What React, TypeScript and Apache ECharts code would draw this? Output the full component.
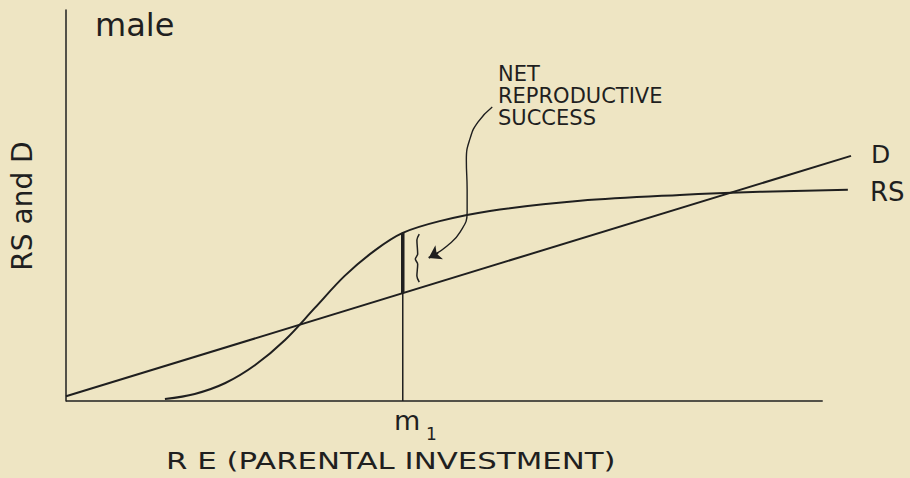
import React, { useEffect, useRef } from "react";
import * as echarts from "echarts";

// ---- data (x = parental investment, y = RS and D) ----
const baseline: number[][] = [[0, 0], [96.4, 0]];
const dLine: number[][] = [[0, 1.2], [100, 62.7]];
const rsCurve: number[][] = [
  [12.6, 0.5], [16.4, 1.8], [20.3, 4.6], [24.1, 9.2], [27.9, 15.6],
  [31.7, 23.8], [35.5, 32.0], [39.4, 38.6], [42.9, 43.0], [47.6, 46.0],
  [54.0, 48.6], [65.5, 51.2], [78.2, 52.7], [88.4, 53.5], [99.6, 54.0],
];
const m1X = 42.9;
const rsAtM1 = 43.0;
const dAtM1 = 27.6;
const brace: number[][] = [
  [45.0, 42.7], [44.7, 41.2], [44.8, 37.6], [44.5, 36.3], [44.8, 35.0],
  [44.7, 32.0], [45.0, 30.4],
];
const arrowPath: number[][] = [
  [54.3, 75.2], [52.5, 71.4], [51.5, 67.3], [51.0, 61.6], [51.1, 54.0],
  [51.1, 48.3], [50.2, 43.2], [48.5, 39.6], [46.9, 37.4],
];
const arrowHead: number[][] = [[47.4, 37.9], [46.2, 36.6]];

const INK = "#1f1f1f";
const PAPER = "#eee5c3";
const FONT = "DejaVu Sans";

export default function App() {
  const ref = useRef<HTMLDivElement>(null);
  useEffect(() => {
    if (!ref.current) return;
    const chart = echarts.init(ref.current, undefined, { renderer: "svg" });
    const lineBase = {
      type: "line",
      symbol: "none",
      silent: true,
      clip: false,
      animation: false,
    };
    chart.setOption({
      animation: false,
      backgroundColor: PAPER,
      grid: { left: 66, right: 59, top: 10, bottom: 77 },
      xAxis: {
        type: "value", min: 0, max: 100,
        axisLine: { show: false }, axisTick: { show: false },
        axisLabel: { show: false }, splitLine: { show: false },
      },
      yAxis: {
        type: "value", min: 0, max: 100,
        axisLine: { show: true, lineStyle: { color: INK, width: 1.5 } },
        axisTick: { show: false }, axisLabel: { show: false },
        splitLine: { show: false },
      },
      series: [
        { ...lineBase, data: baseline, lineStyle: { color: INK, width: 1.5 } },
        { ...lineBase, data: dLine, lineStyle: { color: INK, width: 2 } },
        {
          ...lineBase, data: rsCurve, smooth: 0.35,
          lineStyle: { color: INK, width: 2 },
        },
        { ...lineBase, data: [[m1X, 0], [m1X, rsAtM1]], lineStyle: { color: INK, width: 1.5 } },
        { ...lineBase, data: [[m1X, dAtM1], [m1X, rsAtM1]], lineStyle: { color: INK, width: 3.5 } },
        { ...lineBase, data: brace, smooth: 0.3, lineStyle: { color: INK, width: 1.5 } },
        { ...lineBase, data: arrowPath, smooth: 0.5, lineStyle: { color: INK, width: 1.4 } },
        {
          type: "lines",
          coordinateSystem: "cartesian2d",
          silent: true,
          animation: false,
          symbol: ["none", "arrow"],
          symbolSize: [6, 12],
          lineStyle: { color: INK, width: 2, opacity: 1 },
          data: [{ coords: arrowHead }],
        },
      ],
      graphic: [
        {
          type: "text", x: 95, y: 25,
          style: { text: "male", font: `32px "${FONT}"`, fill: INK, textAlign: "left", textVerticalAlign: "middle" },
        },
        {
          type: "text", x: 22, y: 206, rotation: Math.PI / 2,
          style: { text: "RS and D", font: `28px "${FONT}"`, fill: INK, textAlign: "center", textVerticalAlign: "middle" },
        },
        {
          type: "text", x: 871, y: 154,
          style: { text: "D", font: `25px "${FONT}"`, fill: INK, textAlign: "left", textVerticalAlign: "middle" },
        },
        {
          type: "text", x: 870, y: 192,
          style: { text: "RS", font: `26px "${FONT}"`, fill: INK, textAlign: "left", textVerticalAlign: "middle" },
        },
        {
          type: "text", x: 498, y: 63,
          style: {
            text: "NET\nREPRODUCTIVE\nSUCCESS", font: `21px "${FONT}"`, lineHeight: 22,
            fill: INK, textAlign: "left", textVerticalAlign: "top",
          },
        },
        {
          type: "text", x: 394, y: 420,
          style: { text: "m", font: `27px "${FONT}"`, fill: INK, textAlign: "left", textVerticalAlign: "middle" },
        },
        {
          type: "text", x: 426, y: 434,
          style: { text: "1", font: `17px "${FONT}"`, fill: INK, textAlign: "left", textVerticalAlign: "middle" },
        },
        {
          type: "text", x: 166, y: 461, scaleX: 1.34,
          style: { text: "R E (PARENTAL INVESTMENT)", font: `23px "${FONT}"`, fill: INK, textAlign: "left", textVerticalAlign: "middle" },
        },
      ],
    });
    return () => chart.dispose();
  }, []);
  return (
    <div
      ref={ref}
      style={{ position: "fixed", left: 0, top: 0, width: 910, height: 478 }}
    />
  );
}
